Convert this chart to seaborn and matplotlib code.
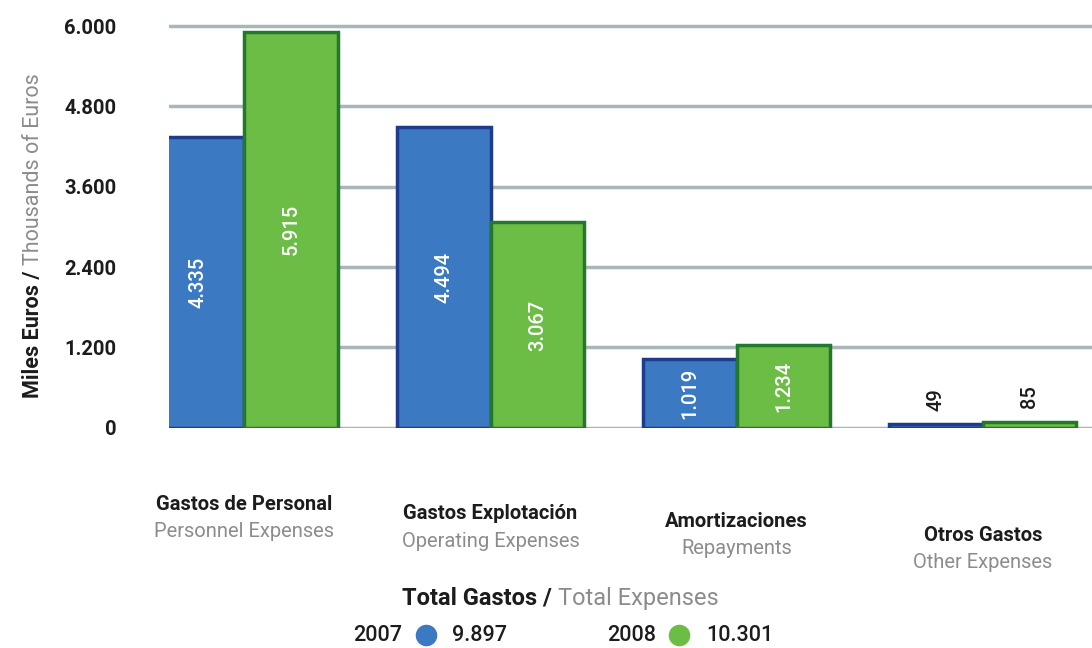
import matplotlib
matplotlib.use("Agg")
import matplotlib.pyplot as plt
import matplotlib.transforms as mtransforms
from matplotlib.lines import Line2D
import seaborn as sns
import pandas as pd

# ---- data (thousands of euros) ----
categories_es = ["Gastos de Personal", "Gastos Explotación", "Amortizaciones", "Otros Gastos"]
categories_en = ["Personnel Expenses", "Operating Expenses", "Repayments", "Other Expenses"]
years = ["2007", "2008"]
values_2007 = [4335, 4494, 1019, 49]
values_2008 = [5915, 3067, 1234, 85]
yticks = [0, 1200, 2400, 3600, 4800, 6000]

BLUE = "#3b79c3"
BLUE_DARK = "#1f3c8c"
GREEN = "#6cbd45"
GREEN_DARK = "#22782c"
INK = "#1c1c1c"
GREY = "#8c8c8c"
GRID = "#a9b6b9"


def fmt(v):
    """Spanish thousands separator."""
    return f"{v:,}".replace(",", ".")


sns.set_theme(style="white")
plt.rcParams["font.family"] = ["Roboto", "DejaVu Sans"]

df = pd.DataFrame({
    "categoria": categories_es * 2,
    "año": [years[0]] * 4 + [years[1]] * 4,
    "valor": values_2007 + values_2008,
})

fig = plt.figure(figsize=(10.92, 6.48), dpi=100)
fig.patch.set_facecolor("white")
ax = fig.add_axes([0.155, 0.34, 0.845, 0.625])

sns.barplot(data=df, x="categoria", y="valor", hue="año", hue_order=years,
            palette=[BLUE, GREEN], saturation=1, width=0.76, legend=False, ax=ax)

for container, edge in zip(ax.containers, [BLUE_DARK, GREEN_DARK]):
    for bar in container:
        bar.set_edgecolor(edge)
        bar.set_linewidth(2.5)

# axes styling
ax.set_ylim(0, 6050)
ax.set_xlim(-0.305, 3.443)
ax.set_yticks(yticks)
ax.set_yticklabels([fmt(t) for t in yticks], fontsize=14.5, fontweight="bold", color=INK)
ax.tick_params(axis="y", length=0, pad=38)
ax.tick_params(axis="x", length=0, labelbottom=False)
ax.set_xlabel("")
ax.set_ylabel("")
ax.yaxis.grid(True, color=GRID, linewidth=2.5)
ax.set_axisbelow(True)
for s in ax.spines.values():
    s.set_visible(False)

# value labels
for container in ax.containers:
    for bar in container:
        h = bar.get_height()
        cx = bar.get_x() + bar.get_width() / 2
        if h > 600:
            ax.text(cx, h / 2, fmt(int(round(h))), rotation=90, ha="center", va="center",
                    color="white", fontsize=14.5, fontweight="medium")
        else:
            ax.annotate(fmt(int(round(h))), (cx, h), xytext=(0, 10), textcoords="offset points",
                        rotation=90, ha="center", va="bottom", color=INK, fontsize=14.5,
                        fontweight="medium")

# category labels, stepping down slightly to the right
label_y = [0.222, 0.207, 0.195, 0.174]
trans = mtransforms.blended_transform_factory(ax.transData, fig.transFigure)
for i, (es, en) in enumerate(zip(categories_es, categories_en)):
    ax.text(i, label_y[i], es, transform=trans, ha="center", va="center",
            fontsize=14.5, fontweight="bold", color=INK, clip_on=False)
    ax.text(i, label_y[i] - 0.042, en, transform=trans, ha="center", va="center",
            fontsize=14.5, color=GREY, clip_on=False)

renderer = fig.canvas.get_renderer()


def width_fig(t):
    return t.get_window_extent(renderer=renderer).width / fig.bbox.width


def height_fig(t):
    return t.get_window_extent(renderer=renderer).height / fig.bbox.height


# y-axis title in two tones, written bottom to top
y0 = 0.386
t1 = fig.text(0.036, y0, "Miles Euros / ", rotation=90, rotation_mode="anchor",
              ha="left", va="baseline", fontsize=15.5, fontweight="bold", color=INK)
h1 = height_fig(t1)
t2 = fig.text(0.036, y0 + h1, "Thousands of Euros", rotation=90, rotation_mode="anchor",
              ha="left", va="baseline", fontsize=15.5, color=GREY)


def text_row(pieces, center_x, y):
    """Lay out (text, color, weight, size, gap_after) pieces in one centred line.
    A None text reserves room for a round marker of that color."""
    items = []
    for txt, col, wt, sz, gap in pieces:
        if txt is None:
            items.append((None, col, 0.019, gap))
        else:
            a = fig.text(0, y, txt, color=col, fontweight=wt, fontsize=sz,
                         ha="left", va="center")
            items.append((a, col, width_fig(a), gap))
    total = sum(w + g for _, _, w, g in items)
    x = center_x - total / 2
    for a, col, w, g in items:
        if a is None:
            fig.add_artist(Line2D([x + w / 2], [y], marker="o", markersize=14.5,
                                  color=col, linestyle="none", transform=fig.transFigure))
        else:
            a.set_x(x)
        x += w + g


# totals block
text_row([("Total Gastos / ", INK, "bold", 17, 0.0),
          ("Total Expenses", GREY, "normal", 17, 0.0)], 0.513, 0.077)

totals = [sum(values_2007), sum(values_2008)]
for year, total, col, cx in zip(years, totals, [BLUE, GREEN], [0.394, 0.632]):
    text_row([(year, INK, "medium", 15.5, 0.012),
              (None, col, None, None, 0.015),
              (fmt(total), INK, "medium", 15.5, 0.0)], cx, 0.020)

fig.savefig("out.png", dpi=100, facecolor="white")
